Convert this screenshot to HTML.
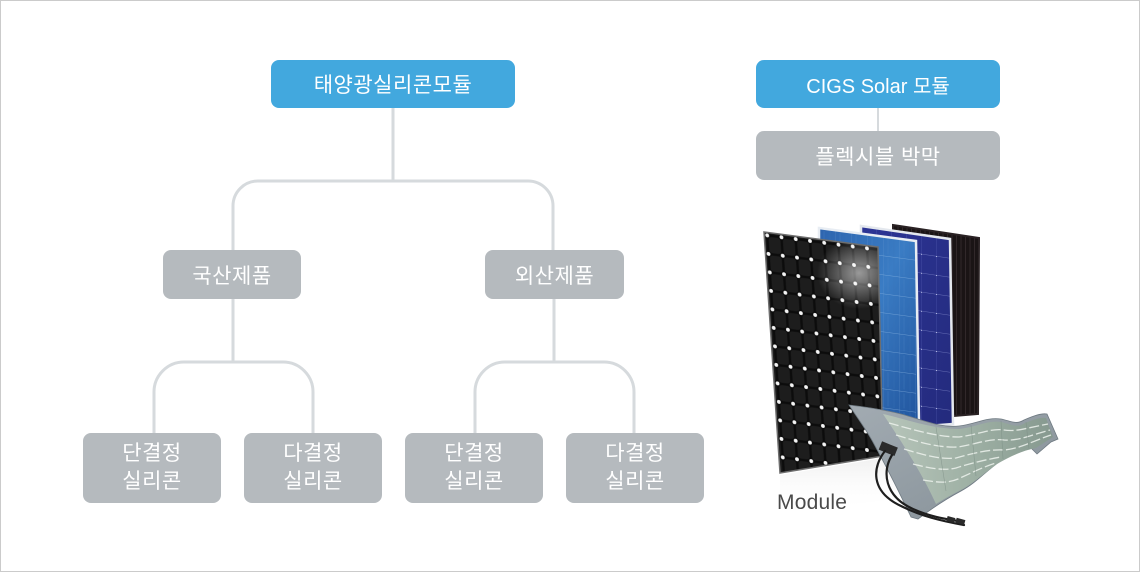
<!DOCTYPE html>
<html>
<head>
<meta charset="utf-8">
<style>
  html,body{margin:0;padding:0;background:#fff;}
  #wrap{position:relative;width:1140px;height:572px;box-sizing:border-box;border:1px solid #cbcbcb;overflow:hidden;background:#fff;
    font-family:"Liberation Sans","Noto Sans CJK KR",sans-serif;}
  .box{position:absolute;border-radius:8px;color:#fff;display:flex;align-items:center;justify-content:center;text-align:center;
    font-size:21px;letter-spacing:0.5px;font-weight:400;font-family:"Liberation Sans","Noto Sans CJK KR",sans-serif;}
  .blue{background:#42a8de;}
  .grey{background:#b5babe;}
  .two{line-height:28px;}
  svg{position:absolute;left:0;top:0;}
  .mod{position:absolute;left:776px;top:490px;font-size:21px;color:#4a4a4a;font-family:"Liberation Sans",sans-serif;letter-spacing:0.2px;}
</style>
</head>
<body>
<div id="wrap">
<svg width="1140" height="572" viewBox="0 0 1140 572">
  <defs>
    <pattern id="pFront" width="14.25" height="18.5" patternUnits="userSpaceOnUse" x="3" y="3">
      <rect width="14.25" height="18.5" fill="#0c0c0c"/>
      <rect x="1.2" y="1.2" width="11.8" height="16.1" rx="3" fill="#1d1d1d"/>
      <circle cx="0" cy="0" r="1.9" fill="#f4f4f4"/>
      <circle cx="14.25" cy="0" r="1.9" fill="#f4f4f4"/>
      <circle cx="0" cy="18.5" r="1.9" fill="#f4f4f4"/>
      <circle cx="14.25" cy="18.5" r="1.9" fill="#f4f4f4"/>
    </pattern>
    <pattern id="pBlue" width="16" height="19" patternUnits="userSpaceOnUse">
      <rect width="16" height="19" fill="none"/>
      <line x1="0" y1="0" x2="16" y2="0" stroke="#9ec3ea" stroke-width="0.8" opacity="0.7"/>
      <line x1="0" y1="0" x2="0" y2="19" stroke="#7fa8d8" stroke-width="0.5" opacity="0.6"/>
      <line x1="5" y1="2" x2="5" y2="17" stroke="#4f86c8" stroke-width="0.6" opacity="0.5"/>
      <line x1="11" y1="1" x2="11" y2="18" stroke="#3a70b5" stroke-width="0.6" opacity="0.5"/>
    </pattern>
    <pattern id="pPurple" width="15" height="19" patternUnits="userSpaceOnUse">
      <line x1="0" y1="0" x2="15" y2="0" stroke="#a9b0ea" stroke-width="0.8" opacity="0.6"/>
      <line x1="0" y1="0" x2="0" y2="19" stroke="#6f78cc" stroke-width="0.6" opacity="0.6"/>
      <circle cx="0" cy="0" r="1" fill="#dfe3ff"/>
    </pattern>
    <pattern id="pBack" width="4.5" height="10" patternUnits="userSpaceOnUse">
      <rect width="4.5" height="10" fill="#1a1415"/>
      <line x1="0.5" y1="0" x2="0.5" y2="10" stroke="#3a3032" stroke-width="0.7"/>
    </pattern>
    <linearGradient id="gBlue" x1="0" y1="0" x2="1" y2="1">
      <stop offset="0" stop-color="#2c63ad"/>
      <stop offset="0.45" stop-color="#3a7cc4"/>
      <stop offset="1" stop-color="#1d4f98"/>
    </linearGradient>
    <linearGradient id="gPurple" x1="0" y1="0" x2="1" y2="1">
      <stop offset="0" stop-color="#2d3596"/>
      <stop offset="1" stop-color="#232a7c"/>
    </linearGradient>
    <radialGradient id="gGlare" cx="0.5" cy="0.5" r="0.5">
      <stop offset="0" stop-color="#ffffff" stop-opacity="0.55"/>
      <stop offset="1" stop-color="#ffffff" stop-opacity="0"/>
    </radialGradient>
    <linearGradient id="gFilm" x1="0" y1="0" x2="1" y2="1">
      <stop offset="0" stop-color="#a2abb2"/>
      <stop offset="0.5" stop-color="#939da4"/>
      <stop offset="1" stop-color="#858f97"/>
    </linearGradient>
    <linearGradient id="gCells" x1="0" y1="0" x2="1" y2="0">
      <stop offset="0" stop-color="#b7c5ba"/>
      <stop offset="0.5" stop-color="#9fb1a5"/>
      <stop offset="1" stop-color="#86998f"/>
    </linearGradient>
    <linearGradient id="gRefl" x1="0" y1="0" x2="0" y2="1">
      <stop offset="0" stop-color="#dcdcdc" stop-opacity="0.7"/>
      <stop offset="1" stop-color="#ffffff" stop-opacity="0"/>
    </linearGradient>
    <clipPath id="cFront"><polygon points="763,231 877,246 882,455 779,472"/></clipPath>
    <clipPath id="cBlue"><polygon points="818,227 915,240 918,420 818,432"/></clipPath>
    <clipPath id="cPurple"><polygon points="860,225 949,238 952,423 860,430"/></clipPath>
    <clipPath id="cBack"><polygon points="892,224 978,237 977,413 892,420"/></clipPath>
  </defs>

  <!-- tree connectors -->
  <g fill="none" stroke="#d6dadd" stroke-width="3">
    <path d="M392,107 V180"/>
    <path d="M232,249 V205 A25,25 0 0 1 257,180 H527 A25,25 0 0 1 552,205 V249"/>
    <path d="M232,298 V361"/>
    <path d="M153,432 V391 A30,30 0 0 1 183,361 H282 A30,30 0 0 1 312,391 V432"/>
    <path d="M553,298 V361"/>
    <path d="M474,432 V391 A30,30 0 0 1 504,361 H603 A30,30 0 0 1 633,391 V432"/>
    <path d="M877,107 V130" stroke-width="2"/>
  </g>

  <!-- reflection -->
  <polygon points="779,474 882,457 960,440 975,470 882,500 779,512" fill="url(#gRefl)"/>

  <!-- back black panel -->
  <g clip-path="url(#cBack)">
    <g transform="matrix(1,0.151,0,1,892,224)">
      <rect x="0" y="0" width="86" height="200" fill="url(#pBack)"/>
    </g>
  </g>
  <polygon points="892,224 978,237 977,413 892,420" fill="none" stroke="#2a2224" stroke-width="2"/>

  <!-- purple panel -->
  <g clip-path="url(#cPurple)">
    <rect x="855" y="220" width="100" height="215" fill="url(#gPurple)"/>
    <g transform="matrix(1,0.146,0,1,860,225)">
      <rect x="0" y="0" width="89" height="200" fill="url(#pPurple)"/>
    </g>
  </g>
  <polygon points="860,225 949,238 952,423 860,430" fill="none" stroke="#e4e8ee" stroke-width="2.5"/>

  <!-- blue panel -->
  <g clip-path="url(#cBlue)">
    <rect x="815" y="222" width="110" height="215" fill="url(#gBlue)"/>
    <g transform="matrix(1,0.134,0,1,818,227)">
      <rect x="0" y="0" width="97" height="200" fill="url(#pBlue)"/>
    </g>
  </g>
  <polygon points="818,227 915,240 918,420 818,432" fill="none" stroke="#e8edf3" stroke-width="2.5"/>

  <!-- front black panel -->
  <g clip-path="url(#cFront)">
    <rect x="760" y="228" width="130" height="250" fill="#0c0c0c"/>
    <g transform="matrix(1,0.13,0.07,1,763,231)">
      <rect x="0" y="0" width="118" height="250" fill="url(#pFront)"/>
    </g>
    <ellipse cx="858" cy="272" rx="42" ry="36" fill="url(#gGlare)"/>
  </g>
  <polygon points="763,231 877,246 882,455 779,472" fill="none" stroke="#6e6e6e" stroke-width="1.5"/>

  <!-- flexible film -->
  <path d="M848,404 C865,406 880,408 900,413 C925,420 940,427 958,425 C975,423 985,416 1000,418 C1010,420 1015,424 1023,419 C1032,415 1040,412 1046,413 L1057,438 L1050,441 L1036,453 L1030,447 C1020,449 1010,453 998,461 C985,470 975,482 960,490 C945,498 930,508 917,518 L910,516 C900,495 885,465 873,443 C865,428 855,415 848,404 Z" fill="url(#gFilm)" stroke="#6f7a82" stroke-width="0.8"/>
  <path d="M882,413 C905,418 930,428 958,428 C976,426 986,419 1000,421 C1012,424 1016,427 1024,422 C1034,418 1040,416 1045,417 L1052,436 L1035,447 C1020,450 1008,456 996,463 C982,473 972,483 958,490 C948,495 940,500 935,503 C920,470 900,440 882,413 Z" fill="url(#gCells)"/>
  <g fill="none" stroke="#eef3ee" stroke-width="1.3" stroke-dasharray="10 3" opacity="0.85">
    <path d="M888,422 C910,428 935,436 958,436 C980,433 990,427 1003,429 C1015,431 1025,427 1047,423"/>
    <path d="M895,434 C915,440 935,447 957,446 C975,443 990,437 1003,439 C1018,440 1030,434 1049,429"/>
    <path d="M903,448 C920,453 938,459 955,457 C972,452 990,448 1003,449 C1018,448 1032,440 1050,434"/>
    <path d="M912,463 C928,467 942,470 955,467 C970,462 988,458 1000,456"/>
    <path d="M922,479 C935,481 945,483 957,478 C970,472 982,466 995,462"/>
  </g>
  <g fill="none" stroke="#7d8f86" stroke-width="0.6" opacity="0.7">
    <path d="M935,426 L945,490"/>
    <path d="M970,424 L975,475"/>
    <path d="M1000,420 L1002,458"/>
    <path d="M1025,421 L1028,448"/>
  </g>
  <!-- junction box and cables -->
  <rect x="879" y="443" width="17" height="9" fill="#2b2b2b" transform="rotate(22 887 447)"/>
  <g fill="none" stroke="#1e1e1e" stroke-width="2.2" stroke-linecap="round">
    <path d="M884,450 C872,465 868,490 900,505 C920,515 940,520 963,524"/>
    <path d="M891,454 C881,470 883,495 912,508 C930,516 945,518 957,520"/>
  </g>
  <rect x="955" y="518" width="9" height="5" fill="#2a2a2a" transform="rotate(15 960 520)"/>
  <rect x="946" y="516" width="8" height="5" fill="#2a2a2a" transform="rotate(15 950 518)"/>
</svg>

<div class="box blue" style="left:270px;top:59px;width:244px;height:48px;">태양광실리콘모듈</div>
<div class="box grey" style="left:162px;top:249px;width:138px;height:49px;">국산제품</div>
<div class="box grey" style="left:484px;top:249px;width:139px;height:49px;">외산제품</div>

<div class="box grey two" style="left:82px;top:432px;width:138px;height:70px;">단결정<br>실리콘</div>
<div class="box grey two" style="left:243px;top:432px;width:138px;height:70px;">다결정<br>실리콘</div>
<div class="box grey two" style="left:404px;top:432px;width:138px;height:70px;">단결정<br>실리콘</div>
<div class="box grey two" style="left:565px;top:432px;width:138px;height:70px;">다결정<br>실리콘</div>

<div class="box blue" style="left:755px;top:59px;width:244px;height:48px;letter-spacing:0;font-size:20px;">CIGS Solar 모듈</div>
<div class="box grey" style="left:755px;top:130px;width:244px;height:49px;">플렉시블 박막</div>

<div class="mod">Module</div>
</div>
</body>
</html>
